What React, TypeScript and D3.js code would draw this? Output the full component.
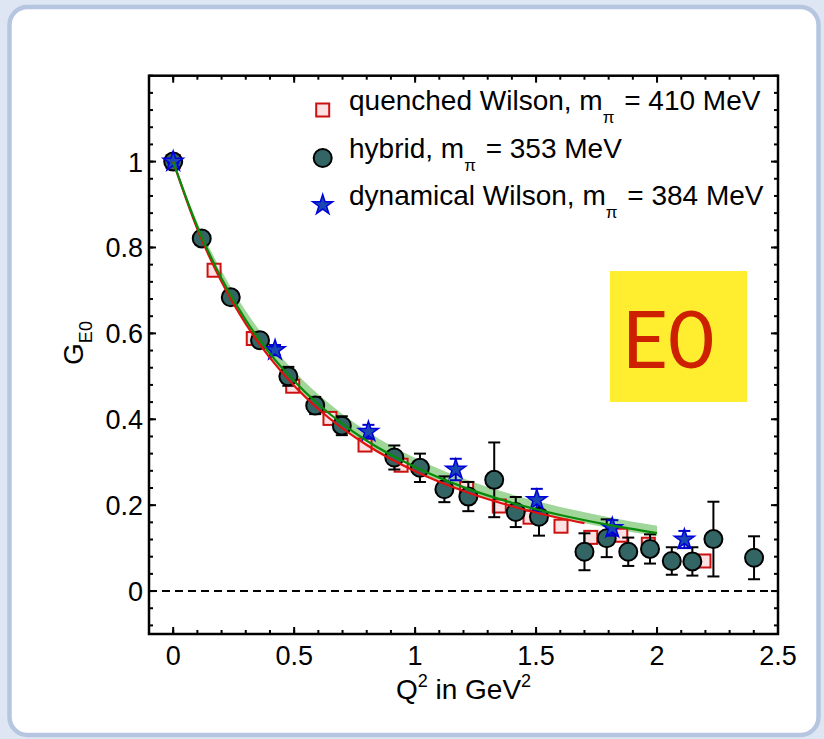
import React from "react";
import * as d3 from "d3";

// ---------- data ----------
const hybridQ2 = [0, 0.118, 0.238, 0.359, 0.476, 0.587, 0.697, 0.914, 1.02, 1.121, 1.22, 1.327, 1.416, 1.512, 1.7, 1.792, 1.881, 1.971, 2.061, 2.146, 2.233, 2.401];
const hybridG = [1.0, 0.821, 0.684, 0.584, 0.5, 0.432, 0.385, 0.311, 0.287, 0.237, 0.22, 0.259, 0.184, 0.173, 0.0915, 0.123, 0.0915, 0.098, 0.07, 0.069, 0.121, 0.0775];
const hybridErr = [0.003, 0.01, 0.012, 0.015, 0.022, 0.02, 0.022, 0.028, 0.033, 0.03, 0.034, 0.087, 0.035, 0.044, 0.043, 0.044, 0.033, 0.034, 0.032, 0.033, 0.087, 0.05];

const quenchedQ2 = [0, 0.169, 0.331, 0.494, 0.648, 0.793, 0.942, 1.213, 1.348, 1.475, 1.603, 1.726, 1.85, 1.964, 2.194];
const quenchedG = [1.0, 0.747, 0.588, 0.477, 0.402, 0.34, 0.293, 0.239, 0.198, 0.172, 0.151, 0.125, 0.13, 0.109, 0.07];

const dynQ2 = [0, 0.421, 0.807, 1.168, 1.503, 1.815, 2.113];
const dynG = [1.0, 0.561, 0.371, 0.283, 0.212, 0.147, 0.12];
const dynErr = [0.003, 0.012, 0.016, 0.025, 0.026, 0.018, 0.02];

// fit curves
const greenQ2 = [0, 0.1, 0.2, 0.3, 0.4, 0.5, 0.6, 0.8, 1.0, 1.2, 1.4, 1.6, 1.8, 2.0];
const greenG = [1.0, 0.848, 0.728, 0.631, 0.553, 0.489, 0.435, 0.35, 0.289, 0.242, 0.2055, 0.177, 0.154, 0.135];
const bandHi = [1.0, 0.858, 0.745, 0.652, 0.576, 0.512, 0.458, 0.372, 0.31, 0.262, 0.225, 0.196, 0.172, 0.152];
const bandLo = [1.0, 0.842, 0.72, 0.622, 0.543, 0.479, 0.425, 0.341, 0.28, 0.234, 0.198, 0.17, 0.147, 0.128];
const redQ2 = [0, 0.1, 0.2, 0.3, 0.4, 0.5, 0.6, 0.8, 1.0, 1.2, 1.4, 1.6, 1.7];
const redG = [1.0, 0.843, 0.72, 0.622, 0.543, 0.478, 0.424, 0.34, 0.279, 0.233, 0.1975, 0.1695, 0.158];

const xTickValues = [0, 0.5, 1, 1.5, 2, 2.5];
const xTickLabels = ["0", "0.5", "1", "1.5", "2", "2.5"];
const yTickValues = [0, 0.2, 0.4, 0.6, 0.8, 1];
const yTickLabels = ["0", "0.2", "0.4", "0.6", "0.8", "1"];

const legendNames = ["quenched Wilson, m", "hybrid, m", "dynamical Wilson, m"];
const legendValues = ["= 410 MeV", "= 353 MeV", "= 384 MeV"];

// ---------- layout ----------
const W = 824;
const H = 739;
const L = 149, R = 778, T = 75.7, B = 634;
const FONT = "'Liberation Sans', Arial, Helvetica, sans-serif";

export default function App() {
  const x = d3.scaleLinear().domain([-0.1, 2.5]).range([L, R]);
  const y = d3.scaleLinear().domain([-0.1, 1.2]).range([B, T]);

  const xMinor = d3.range(-0.1, 2.5001, 0.1);
  const yMinor = d3.range(-0.08, 1.2001, 0.04);

  const band = d3
    .area<number>()
    .x((_, i) => x(greenQ2[i]))
    .y0((_, i) => y(bandLo[i]))
    .y1((_, i) => y(bandHi[i]))
    .curve(d3.curveMonotoneX);
  const greenLine = d3
    .line<number>()
    .x((_, i) => x(greenQ2[i]))
    .y((d) => y(d))
    .curve(d3.curveMonotoneX);
  const redLine = d3
    .line<number>()
    .x((_, i) => x(redQ2[i]))
    .y((d) => y(d))
    .curve(d3.curveMonotoneX);

  const star = d3.symbol().type(d3.symbolStar).size(125)();
  const sq = 13;
  const cr = 9;

  const majorLen = 7, minorLen = 4;

  const legX = 322.7;
  const legRows = [110, 158, 205];

  return (
    <svg
      width={W}
      height={H}
      viewBox={`0 0 ${W} ${H}`}
      style={{ position: "absolute", left: 0, top: 0 }}
      fontFamily={FONT}
    >
      <rect x={0} y={0} width={W} height={H} fill="#dde6f2" />
      <rect x={9.5} y={7} width={809} height={728} rx={18} fill="#ffffff" stroke="#b6c6e0" strokeWidth={4.5} />

      {/* band */}
      <path d={band(greenG) || ""} fill="#8fcf88" opacity={0.85} />

      {/* zero line */}
      <line x1={L} x2={R} y1={y(0)} y2={y(0)} stroke="#000" strokeWidth={2} strokeDasharray="8,5" />

      {/* quenched squares */}
      {quenchedQ2.map((q, i) => (
        <rect key={"q" + i} x={x(q) - sq / 2} y={y(quenchedG[i]) - sq / 2} width={sq} height={sq}
          fill="#fde2e4" stroke="#cc1111" strokeWidth={2} />
      ))}

      {/* hybrid error bars + circles */}
      {hybridQ2.map((q, i) => {
        const cx = x(q);
        const y1 = y(hybridG[i] + hybridErr[i]);
        const y2 = y(hybridG[i] - hybridErr[i]);
        return (
          <g key={"h" + i} stroke="#000" strokeWidth={2}>
            <line x1={cx} x2={cx} y1={y1} y2={y2} />
            <line x1={cx - 6} x2={cx + 6} y1={y1} y2={y1} />
            <line x1={cx - 6} x2={cx + 6} y1={y2} y2={y2} />
            <circle cx={cx} cy={y(hybridG[i])} r={cr} fill="#336565" />
          </g>
        );
      })}

      {/* dynamical stars */}
      {dynQ2.map((q, i) => {
        const cx = x(q);
        const y1 = y(dynG[i] + dynErr[i]);
        const y2 = y(dynG[i] - dynErr[i]);
        return (
          <g key={"d" + i}>
            <g stroke="#0000cc" strokeWidth={2}>
              <line x1={cx} x2={cx} y1={y1} y2={y2} />
              <line x1={cx - 6} x2={cx + 6} y1={y1} y2={y1} />
              <line x1={cx - 6} x2={cx + 6} y1={y2} y2={y2} />
            </g>
            <path d={star || ""} transform={`translate(${cx},${y(dynG[i])})`} fill="#1848b0" stroke="#0000dd" strokeWidth={1.5} />
          </g>
        );
      })}

      {/* fit lines */}
      <path d={redLine(redG) || ""} fill="none" stroke="#e01010" strokeWidth={2.2} />
      <path d={greenLine(greenG) || ""} fill="none" stroke="#0a8a0a" strokeWidth={2.2} />

      {/* frame */}
      <rect x={L} y={T} width={R - L} height={B - T} fill="none" stroke="#000" strokeWidth={2.5} />

      {/* ticks */}
      <g stroke="#000" strokeWidth={2}>
        {xMinor.map((v, i) => (
          <g key={"xm" + i}>
            <line x1={x(v)} x2={x(v)} y1={B} y2={B - minorLen} />
            <line x1={x(v)} x2={x(v)} y1={T} y2={T + minorLen} />
          </g>
        ))}
        {xTickValues.map((v, i) => (
          <g key={"xM" + i}>
            <line x1={x(v)} x2={x(v)} y1={B} y2={B - majorLen} />
            <line x1={x(v)} x2={x(v)} y1={T} y2={T + majorLen} />
          </g>
        ))}
        {yMinor.map((v, i) => (
          <g key={"ym" + i}>
            <line x1={L} x2={L + minorLen} y1={y(v)} y2={y(v)} />
            <line x1={R} x2={R - minorLen} y1={y(v)} y2={y(v)} />
          </g>
        ))}
        {yTickValues.map((v, i) => (
          <g key={"yM" + i}>
            <line x1={L} x2={L + majorLen} y1={y(v)} y2={y(v)} />
            <line x1={R} x2={R - majorLen} y1={y(v)} y2={y(v)} />
          </g>
        ))}
      </g>

      {/* tick labels */}
      {xTickValues.map((v, i) => (
        <text key={"xl" + i} x={x(v)} y={665} fontSize={27} textAnchor="middle" fill="#000">
          {xTickLabels[i]}
        </text>
      ))}
      {yTickValues.map((v, i) => (
        <text key={"yl" + i} x={143} y={y(v) + 10} fontSize={27} textAnchor="end" fill="#000">
          {yTickLabels[i]}
        </text>
      ))}

      {/* axis titles */}
      <text x={(L + R) / 2} y={699} fontSize={28} textAnchor="middle" fill="#000">
        Q<tspan fontSize={18} dy={-12}>2</tspan>
        <tspan dy={12}> in GeV</tspan>
        <tspan fontSize={18} dy={-12}>2</tspan>
      </text>
      <text transform={`translate(83,${343}) rotate(-90)`} fontSize={28} textAnchor="middle" fill="#000">
        G<tspan fontSize={18} dy={9}>E0</tspan>
      </text>

      {/* legend */}
      <rect x={legX - 6.5} y={legRows[0] - 6.5} width={13} height={13} fill="#fde2e4" stroke="#cc1111" strokeWidth={2} />
      <circle cx={legX} cy={legRows[1]} r={9} fill="#336565" stroke="#000" strokeWidth={2} />
      <path d={star || ""} transform={`translate(${legX},${legRows[2]})`} fill="#1848b0" stroke="#0000dd" strokeWidth={1.5} />
      {legendNames.map((n, i) => (
        <text key={"lg" + i} x={349} y={legRows[i]} fontSize={28} fill="#000">
          {n}
          <tspan fontSize={17} dy={13}>π</tspan>
          <tspan dy={-13} dx={2}>{" " + legendValues[i]}</tspan>
        </text>
      ))}

      {/* E0 box */}
      <rect x={610} y={271} width={137} height={131} fill="#ffee30" />
      <text x={668} y={368} fontSize={80} fill="#cc2000" textAnchor="middle" fontFamily="Lato, 'Open Sans', sans-serif">
        E0
      </text>
    </svg>
  );
}
